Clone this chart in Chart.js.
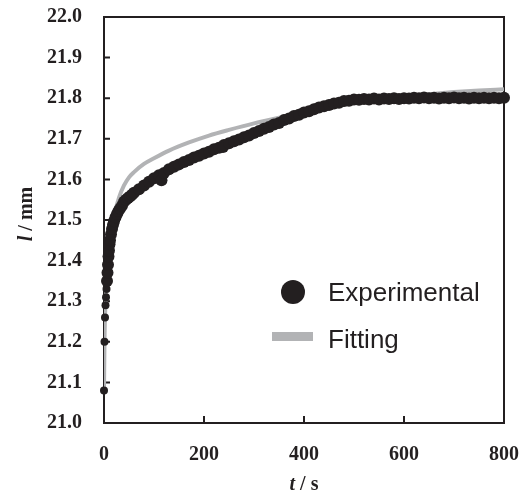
<!DOCTYPE html>
<html>
<head>
<meta charset="utf-8">
<script src="https://cdn.jsdelivr.net/npm/chart.js"></script>
<style>
  body { margin: 0; background: #fff; }
  #wrap { width: 521px; height: 495px; }
</style>
</head>
<body>
<div id="wrap"><canvas id="lengthChart"></canvas></div>
<script>
// experimental points, t in s, l in mm
const expTime = [
  0, 1, 2, 3, 4, 5, 6, 7, 8, 9, 10, 11, 12, 14, 16, 18, 20, 23, 26, 29, 32, 36, 40, 44, 48, 52, 56,
  60, 70, 80, 90, 100, 110, 115, 120, 130, 140, 150, 160, 170, 180, 190, 200, 210, 220, 230, 238, 240,
  250, 260, 270, 280, 290, 300, 310, 320, 330, 340, 350, 360, 370, 380, 390, 400, 410, 420, 430, 440,
  450, 460, 470, 480, 490, 500, 510, 520, 530, 540, 550, 560, 570, 580, 590, 600, 610, 620, 630, 640,
  650, 660, 670, 680, 690, 700, 710, 720, 730, 740, 750, 760, 770, 780, 790, 800
];
const expLength = [
  21.08, 21.20, 21.26, 21.29, 21.31, 21.33, 21.35, 21.37, 21.39, 21.41, 21.425, 21.44, 21.45, 21.465,
  21.478, 21.488, 21.497, 21.507, 21.515, 21.522, 21.528, 21.535, 21.545, 21.550, 21.554, 21.558, 21.562,
  21.567, 21.576, 21.585, 21.594, 21.603, 21.610, 21.598, 21.616, 21.625, 21.631, 21.637, 21.643, 21.648,
  21.654, 21.658, 21.664, 21.668, 21.674, 21.678, 21.680, 21.685, 21.689, 21.694, 21.698, 21.704, 21.708,
  21.714, 21.719, 21.725, 21.729, 21.735, 21.739, 21.746, 21.750, 21.756, 21.759, 21.765, 21.768, 21.773,
  21.777, 21.780, 21.783, 21.787, 21.789, 21.793, 21.794, 21.797, 21.796, 21.798, 21.797, 21.799, 21.797,
  21.799, 21.798, 21.800, 21.798, 21.800, 21.799, 21.801, 21.800, 21.802, 21.800, 21.801, 21.799, 21.801,
  21.800, 21.802, 21.800, 21.801, 21.799, 21.801, 21.800, 21.801, 21.800, 21.801, 21.800, 21.801
];

// fitted curve
const fitTime = [0, 1, 2, 3, 5, 7, 10, 15, 20, 30, 40, 50, 60, 80, 100, 130, 170, 210, 250, 300, 350, 400, 450, 500, 550, 600, 650, 700, 750, 800];
const fitLength = [21.08, 21.20, 21.26, 21.30, 21.35, 21.39, 21.43, 21.48, 21.51, 21.555, 21.585, 21.605, 21.618, 21.638, 21.652, 21.671, 21.691, 21.708, 21.722, 21.738, 21.752, 21.765, 21.777, 21.788, 21.797, 21.804, 21.810, 21.815, 21.819, 21.822];

const xTicks = [0, 200, 400, 600, 800];
const yTicks = [21.0, 21.1, 21.2, 21.3, 21.4, 21.5, 21.6, 21.7, 21.8, 21.9, 22.0];

const ink = "#231f20";
const serif = "'Liberation Serif', 'Times New Roman', serif";
const sans = "'Liberation Sans', Arial, sans-serif";

function drawTitle(ctx, x, y, italicPart, restPart, angle) {
  ctx.save();
  ctx.translate(x, y);
  ctx.rotate(angle);
  ctx.fillStyle = ink;
  ctx.textBaseline = "middle";
  ctx.textAlign = "left";
  ctx.font = "italic bold 20px " + serif;
  const w1 = ctx.measureText(italicPart).width;
  ctx.font = "bold 20px " + serif;
  const w2 = ctx.measureText(restPart).width;
  const start = -(w1 + w2) / 2;
  ctx.font = "italic bold 20px " + serif;
  ctx.fillText(italicPart, start, 0);
  ctx.font = "bold 20px " + serif;
  ctx.fillText(restPart, start + w1, 0);
  ctx.restore();
}

const framePlugin = {
  id: "frame",
  beforeDatasetsDraw(chart) {
    const { ctx, chartArea: a, scales } = chart;
    ctx.save();
    ctx.strokeStyle = ink;
    ctx.lineWidth = 2;
    ctx.strokeRect(a.left, a.top, a.right - a.left, a.bottom - a.top);
    ctx.beginPath();
    xTicks.forEach(v => {
      const x = scales.x.getPixelForValue(v);
      ctx.moveTo(x, a.bottom);
      ctx.lineTo(x, a.bottom - 7);
    });
    yTicks.forEach(v => {
      const y = scales.y.getPixelForValue(v);
      ctx.moveTo(a.left, y);
      ctx.lineTo(a.left + 6, y);
    });
    ctx.stroke();
    ctx.restore();
  },
  afterDraw(chart) {
    const { ctx, chartArea: a } = chart;
    drawTitle(ctx, (a.left + a.right) / 2, 485, "t", " / s", 0);
    drawTitle(ctx, 27, (a.top + a.bottom) / 2 - 6, "l", " / mm", -Math.PI / 2);

    // legend
    ctx.save();
    ctx.fillStyle = ink;
    ctx.beginPath();
    ctx.arc(293, 292, 12, 0, Math.PI * 2);
    ctx.fill();
    ctx.fillStyle = "#b2b3b5";
    ctx.fillRect(272, 332, 41, 9);
    ctx.fillStyle = ink;
    ctx.font = "26px " + sans;
    ctx.textAlign = "left";
    ctx.textBaseline = "alphabetic";
    ctx.fillText("Experimental", 328, 301);
    ctx.fillText("Fitting", 328, 348);
    ctx.restore();
  }
};

new Chart(document.getElementById("lengthChart"), {
  type: "scatter",
  data: {
    datasets: [
      {
        label: "Experimental",
        data: expTime.map((t, i) => ({ x: t, y: expLength[i] })),
        pointRadius: c => (c.raw && c.raw.x < 6 ? 4 : 6),
        pointBackgroundColor: ink,
        pointBorderWidth: 0,
        showLine: false,
        order: 0,
        clip: false
      },
      {
        label: "Fitting",
        data: fitTime.map((t, i) => ({ x: t, y: fitLength[i] })),
        showLine: true,
        pointRadius: 0,
        borderColor: "#b2b3b5",
        borderWidth: 4,
        cubicInterpolationMode: "monotone",
        order: 1
      }
    ]
  },
  plugins: [framePlugin],
  options: {
    responsive: true,
    maintainAspectRatio: false,
    animation: false,
    layout: { padding: { left: 0, right: 17, top: 17, bottom: 0 } },
    plugins: { legend: { display: false }, tooltip: { enabled: false } },
    scales: {
      x: {
        type: "linear",
        min: 0,
        max: 800,
        afterBuildTicks: s => { s.ticks = xTicks.map(v => ({ value: v })); },
        afterFit: s => { s.height = 72; s.paddingLeft = 0; s.paddingRight = 0; },
        grid: { display: false, drawTicks: false },
        border: { display: false },
        ticks: { color: ink, padding: 20, maxRotation: 0, font: { family: serif, size: 20, weight: "bold" } }
      },
      y: {
        type: "linear",
        min: 21.0,
        max: 22.0,
        afterBuildTicks: s => { s.ticks = yTicks.map(v => ({ value: v })); },
        afterFit: s => { s.width = 104; s.paddingTop = 0; s.paddingBottom = 0; },
        grid: { display: false, drawTicks: false },
        border: { display: false },
        ticks: {
          color: ink,
          padding: 22,
          font: { family: serif, size: 20, weight: "bold" },
          callback: v => Number(v).toFixed(1)
        }
      }
    }
  }
});
</script>
</body>
</html>
